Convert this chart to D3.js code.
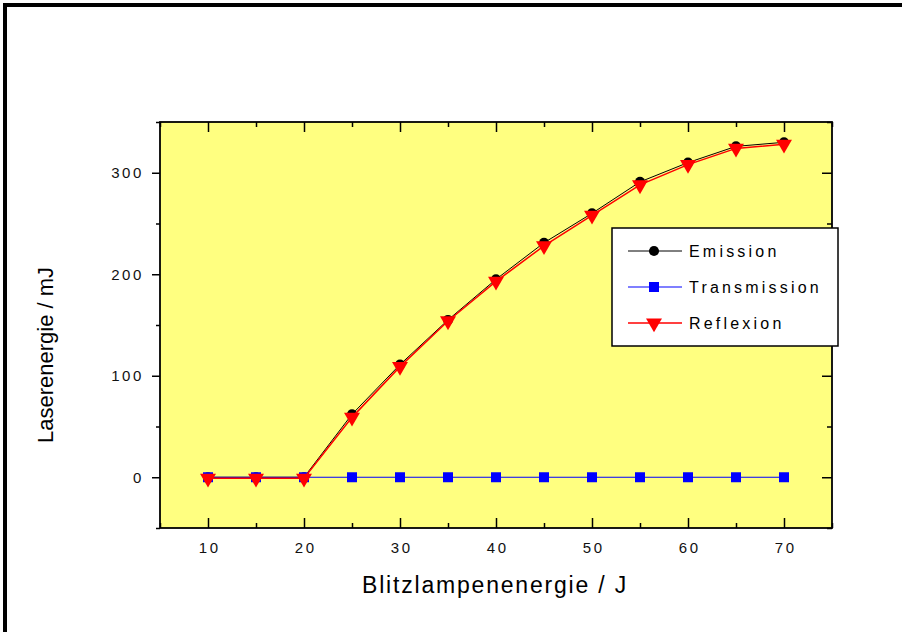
<!DOCTYPE html>
<html>
<head>
<meta charset="utf-8">
<script src="https://cdn.jsdelivr.net/npm/d3@7"></script>
<style>
  body { margin: 0; background: #fff; }
  svg { display: block; font-family: "Liberation Sans", Arial, sans-serif; }
</style>
</head>
<body>
<div id="chart"></div>
<script>
// data
const energy = [10, 15, 20, 25, 30, 35, 40, 45, 50, 55, 60, 65, 70];
const emission = [0, 0, 0, 62, 111, 155, 195, 231, 260, 291, 310, 326, 330];
const transmission = [0, 0, 0, 0, 0, 0, 0, 0, 0, 0, 0, 0, 0];
const reflexion = [-1, -1, -1, 59, 109, 154, 193, 228, 258, 288, 308, 324, 328];
const seriesNames = ["Emission", "Transmission", "Reflexion"];
const xTicks = [10, 20, 30, 40, 50, 60, 70];
const xMinor = [5, 15, 25, 35, 45, 55, 65, 75];
const yTicks = [0, 100, 200, 300];
const yMinor = [-50, 50, 150, 250, 350];

const W = 902, H = 632;
const plot = {left: 160, right: 832, top: 122, bottom: 528};

const svg = d3.select("#chart").append("svg")
  .attr("width", W).attr("height", H);

// outer frame (only top and left edges are visible)
svg.append("path")
  .attr("d", "M5," + (H + 10) + "V5H" + (W + 10))
  .attr("fill", "none").attr("stroke", "#000").attr("stroke-width", 4);

const x = d3.scaleLinear().domain([5, 75]).range([plot.left, plot.right]);
const y = d3.scaleLinear().domain([-50, 350]).range([plot.bottom, plot.top]);

// plot background
svg.append("rect")
  .attr("x", plot.left).attr("y", plot.top)
  .attr("width", plot.right - plot.left).attr("height", plot.bottom - plot.top)
  .attr("fill", "#ffff80");

// axes: left ticks outward, the others inward
function styleAxis(g) {
  g.select(".domain").remove();
  g.selectAll("line").attr("stroke", "#000").attr("stroke-width", 1.5);
  g.selectAll("text").attr("fill", "#111")
    .style("font-size", "15px").style("letter-spacing", "2.6px");
}

svg.append("g").attr("transform", "translate(" + plot.left + ",0)")
  .call(d3.axisLeft(y).tickValues(yTicks).tickSize(8).tickPadding(8).tickFormat(d3.format("d")))
  .call(styleAxis);
svg.append("g").attr("transform", "translate(" + plot.left + ",0)")
  .call(d3.axisLeft(y).tickValues(yMinor).tickSize(4).tickFormat(""))
  .call(styleAxis);

svg.append("g").attr("transform", "translate(" + plot.right + ",0)")
  .call(d3.axisRight(y).tickValues(yTicks).tickSize(-10).tickFormat(""))
  .call(styleAxis);
svg.append("g").attr("transform", "translate(" + plot.right + ",0)")
  .call(d3.axisRight(y).tickValues(yMinor).tickSize(-5).tickFormat(""))
  .call(styleAxis);

const xAxisB = svg.append("g").attr("transform", "translate(0," + plot.bottom + ")")
  .call(d3.axisBottom(x).tickValues(xTicks).tickSize(-10).tickPadding(14).tickFormat(d3.format("d")))
  .call(styleAxis);
xAxisB.selectAll("text").attr("dx", "1.3px");
svg.append("g").attr("transform", "translate(0," + plot.bottom + ")")
  .call(d3.axisBottom(x).tickValues(xMinor).tickSize(-5).tickFormat(""))
  .call(styleAxis);

svg.append("g").attr("transform", "translate(0," + plot.top + ")")
  .call(d3.axisTop(x).tickValues(xTicks).tickSize(-10).tickFormat(""))
  .call(styleAxis);
svg.append("g").attr("transform", "translate(0," + plot.top + ")")
  .call(d3.axisTop(x).tickValues(xMinor).tickSize(-5).tickFormat(""))
  .call(styleAxis);

// plot frame
svg.append("rect")
  .attr("x", plot.left).attr("y", plot.top)
  .attr("width", plot.right - plot.left).attr("height", plot.bottom - plot.top)
  .attr("fill", "none").attr("stroke", "#000").attr("stroke-width", 1.8);

// axis titles
svg.append("text")
  .attr("x", (plot.left + plot.right) / 2 - 1).attr("y", 593)
  .attr("text-anchor", "middle")
  .style("font-size", "23px").style("letter-spacing", "1.8px")
  .text("Blitzlampenenergie / J");

svg.append("text")
  .attr("transform", "translate(53,355) rotate(-90)")
  .attr("text-anchor", "middle")
  .style("font-size", "22px")
  .text("Laserenergie / mJ");

// series
const series = [
  {name: seriesNames[0], values: emission, color: "#000", width: 1, marker: "circle"},
  {name: seriesNames[1], values: transmission, color: "#0000ff", width: 1.2, marker: "square"},
  {name: seriesNames[2], values: reflexion, color: "#ff0000", width: 1.5, marker: "triangle"}
];

const symbols = {
  circle: d3.symbol().type(d3.symbolCircle).size(80),
  square: d3.symbol().type(d3.symbolSquare).size(100),
  triangle: d3.symbol().type(d3.symbolTriangle).size(110)
};

const line = d3.line().x(d => x(d[0])).y(d => y(d[1]));

function drawMarker(g, s, cx, cy) {
  g.append("path")
    .attr("d", symbols[s.marker]())
    .attr("transform", "translate(" + cx + "," + cy + ")" + (s.marker === "triangle" ? " rotate(180)" : ""))
    .attr("fill", s.color);
}

series.forEach(s => {
  const pts = energy.map((e, i) => [e, s.values[i]]);
  const g = svg.append("g");
  g.append("path").datum(pts)
    .attr("d", line)
    .attr("fill", "none").attr("stroke", s.color).attr("stroke-width", s.width);
  pts.forEach(p => drawMarker(g, s, x(p[0]), y(p[1])));
});

// legend
const legend = svg.append("g");
legend.append("rect")
  .attr("x", 612).attr("y", 228).attr("width", 226).attr("height", 118)
  .attr("fill", "#fff").attr("stroke", "#000").attr("stroke-width", 1.5);

series.forEach((s, i) => {
  const ly = 251 + i * 36;
  legend.append("line")
    .attr("x1", 628).attr("x2", 682).attr("y1", ly).attr("y2", ly)
    .attr("stroke", s.color).attr("stroke-width", s.width);
  drawMarker(legend, s, 654, ly);
  legend.append("text")
    .attr("x", 689).attr("y", ly + 6)
    .style("font-size", "16px").style("letter-spacing", "3.2px")
    .text(s.name);
});
</script>
</body>
</html>
